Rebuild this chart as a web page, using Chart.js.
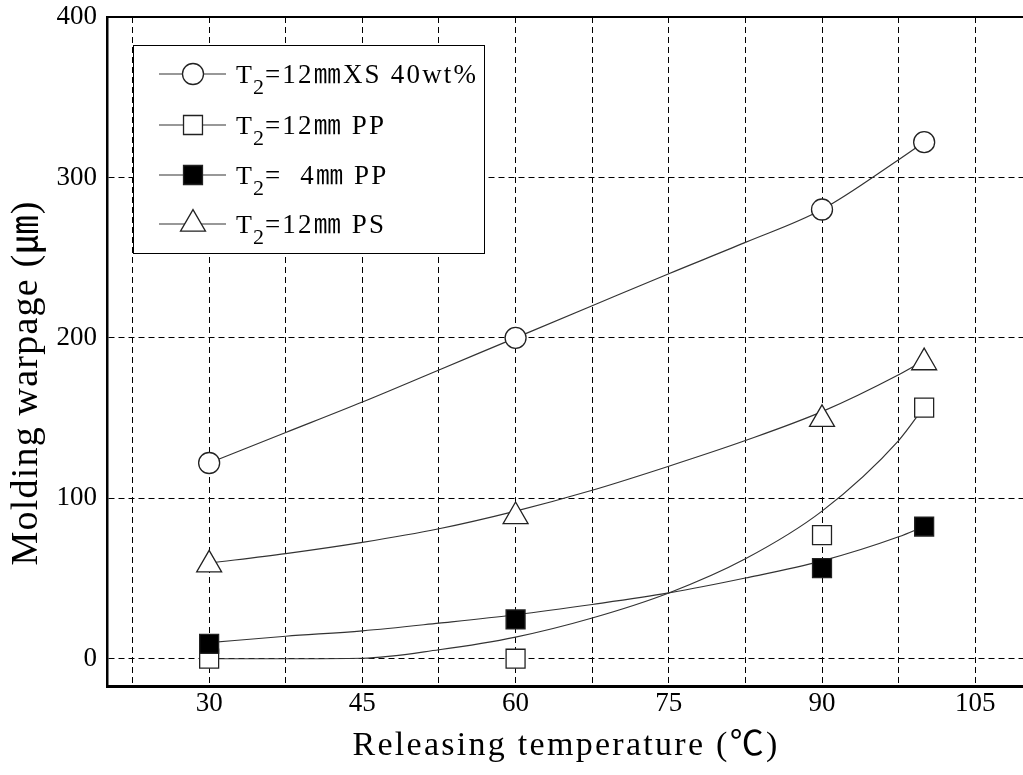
<!DOCTYPE html>
<html>
<head>
<meta charset="utf-8">
<title>Molding warpage vs releasing temperature</title>
<script src="https://cdn.jsdelivr.net/npm/chart.js@4.4.1/dist/chart.umd.min.js"></script>
<style>
html, body { margin: 0; padding: 0; background: #fff; overflow: hidden; }
canvas { display: block; }
</style>
</head>
<body>
<canvas id="chart" width="1042" height="775"></canvas>
<script>
// MEASURED POINTS
const tempX = [30, 60, 90, 100];
const xs40 = [122, 200, 280, 322];
const pp12 = [0, 0, 77, 156.5];
const pp4 = [9.3, 24.5, 56.5, 82.4];
const ps12 = [58.6, 88.7, 149.3, 184.6];

// FITTED CURVES
const fitX = [30, 37.5, 45, 52.5, 60, 67.5, 75, 82.5, 90, 97.5, 100];
const xs40Fit = [122, 141, 160, 180, 200, 220, 240, 259.5, 280, 311, 322];
const pp12Fit = [0, 0, 0.3, 5.6, 13.5, 25.4, 41, 62.3, 92, 136, 157];
const pp4Fit = [10, 14, 17.4, 22.2, 27.4, 33.8, 41, 50.3, 61, 76, 82.5];
const ps12Fit = [59.6, 65.5, 72.5, 81, 92, 105, 120, 136, 154, 177, 186];

// AXES
const xGridTicks = [22.5, 30, 37.5, 45, 52.5, 60, 67.5, 75, 82.5, 90, 97.5, 105];
const xTickLabels = [30, 45, 60, 75, 90, 105];
const yTicks = [0, 100, 200, 300, 400];
const xTitle = "Releasing temperature (℃)";
const yTitle = "Molding warpage (㎛)";

// LEGEND TEXT: main, subscript, rest
const legendText = [
  ["T", "2", "=12㎜XS 40wt%"],
  ["T", "2", "=12㎜ PP"],
  ["T", "2", "=  4㎜ PP"],
  ["T", "2", "=12㎜ PS"]
];

const serif = "'Liberation Serif', 'Times New Roman', 'Noto Sans CJK JP', serif";
const ink = "#222";

function pts(xs, ys){
  return xs.map((x, i) => ({x: x, y: ys[i]}));
}

function fitSet(label, ys){
  return {
    label: label, data: pts(fitX, ys), showLine: true,
    borderColor: "#333", borderWidth: 1.2, pointRadius: 0,
    cubicInterpolationMode: "monotone", order: 10
  };
}

const markerStyles = [
  {pointStyle: "circle", pointRadius: 10.5, fill: "#fff"},
  {pointStyle: "rect", pointRadius: 13.4, fill: "#fff"},
  {pointStyle: "rect", pointRadius: 13.4, fill: "#000"},
  {pointStyle: "triangle", pointRadius: 14.4, fill: "#fff"}
];

function markSet(label, ys, k, order){
  const m = markerStyles[k];
  return {
    label: label, data: pts(tempX, ys), showLine: false,
    pointStyle: m.pointStyle, pointRadius: m.pointRadius,
    backgroundColor: m.fill, borderColor: ink, borderWidth: 1.3,
    order: order
  };
}

// text stretched to a given width with letter spacing
function spacedText(c, text, x, y, width){
  c.letterSpacing = "0px";
  const w = c.measureText(text).width;
  const n = Array.from(text).length;
  c.letterSpacing = ((width - w) / n).toFixed(2) + "px";
  c.fillText(text, x, y);
  c.letterSpacing = "0px";
}

// LEGEND, TITLES, TOP FRAME
const decorations = {
  id: "decorations",
  afterDraw(chart){
    const c = chart.ctx, a = chart.chartArea;
    c.save();
    c.strokeStyle = "#000";
    c.lineWidth = 2;
    c.beginPath();
    c.moveTo(a.left, a.top);
    c.lineTo(a.right, a.top);
    c.stroke();

    // axis titles
    c.fillStyle = "#000";
    c.textBaseline = "alphabetic";
    c.textAlign = "center";
    c.font = "34px " + serif;
    spacedText(c, xTitle, 566, 755, 427);
    c.save();
    c.translate(37, 383);
    c.rotate(-Math.PI / 2);
    c.font = "38px " + serif;
    spacedText(c, yTitle, 0, 0, 365);
    c.restore();

    // legend box
    const bx = a.left + 26.5, by = a.top + 28.5, bw = 351, bh = 208;
    c.fillStyle = "#fff";
    c.fillRect(bx, by, bw, bh);
    c.lineWidth = 1;
    c.strokeStyle = "#000";
    c.strokeRect(bx, by, bw, bh);

    const rowsY = [by + 28.5, by + 79.5, by + 129.5, by + 178.5];
    legendText.forEach((t, i) => {
      const y = rowsY[i];
      c.strokeStyle = "#333";
      c.lineWidth = 1.2;
      c.beginPath();
      c.moveTo(bx + 25.5, y);
      c.lineTo(bx + 92.5, y);
      c.stroke();

      const m = markerStyles[i];
      c.fillStyle = m.fill;
      c.strokeStyle = ink;
      c.lineWidth = 1.3;
      Chart.helpers.drawPoint(c, {pointStyle: m.pointStyle, radius: m.pointRadius, rotation: 0, borderWidth: 1.3}, bx + 59.5, y);

      c.fillStyle = "#000";
      c.textAlign = "left";
      let x = bx + 102.5;
      c.font = "26px " + serif;
      c.fillText(t[0], x, y + 9.3);
      x += c.measureText(t[0]).width + 1;
      c.font = "22px " + serif;
      c.fillText(t[1], x, y + 20);
      x += c.measureText(t[1]).width + 1;
      c.font = "27px " + serif;
      c.letterSpacing = "2.2px";
      c.fillText(t[2], x, y + 9.3);
      c.letterSpacing = "0px";
    });
    c.restore();
  }
};

const ctx = document.getElementById("chart").getContext("2d");

const chart = new Chart(ctx, {
  type: "scatter",
  data: {
    datasets: [
      fitSet("fit XS 40wt%", xs40Fit),
      fitSet("fit 12mm PP", pp12Fit),
      fitSet("fit 4mm PP", pp4Fit),
      fitSet("fit 12mm PS", ps12Fit),
      markSet("T2=12㎜XS 40wt%", xs40, 0, 2),
      markSet("T2=12㎜ PP", pp12, 1, 1),
      markSet("T2=  4㎜ PP", pp4, 2, 0),
      markSet("T2=12㎜ PS", ps12, 3, 2)
    ]
  },
  options: {
    responsive: false,
    animation: false,
    devicePixelRatio: 1,
    layout: {padding: {top: 17, right: 4, left: 0, bottom: 0}},
    plugins: {
      legend: {display: false},
      tooltip: {enabled: false}
    },
    scales: {
      x: {
        type: "linear", min: 20, max: 110,
        afterBuildTicks: s => { s.ticks = xGridTicks.map(v => ({value: v})); },
        afterFit: s => { s.height = 89; s.paddingLeft = 0; s.paddingRight = 0; },
        ticks: {
          callback: v => xTickLabels.includes(v) ? String(v) : "",
          autoSkip: false, maxRotation: 0, padding: 2,
          color: "#000", font: {family: serif, size: 27}
        },
        grid: {color: "#000", lineWidth: 1, drawTicks: false},
        border: {display: true, color: "#000", width: 3, dash: [6, 4]},
        title: {display: false}
      },
      y: {
        type: "linear", min: -17, max: 400,
        afterBuildTicks: s => { s.ticks = yTicks.map(v => ({value: v})); },
        afterFit: s => { s.width = 107; s.paddingTop = 0; s.paddingBottom = 0; },
        ticks: {padding: 10, color: "#000", font: {family: serif, size: 27}},
        grid: {color: "#000", lineWidth: 1, drawTicks: false},
        border: {display: true, color: "#000", width: 2.5, dash: [6, 4]},
        title: {display: false}
      }
    }
  },
  plugins: [decorations]
});
</script>
</body>
</html>
